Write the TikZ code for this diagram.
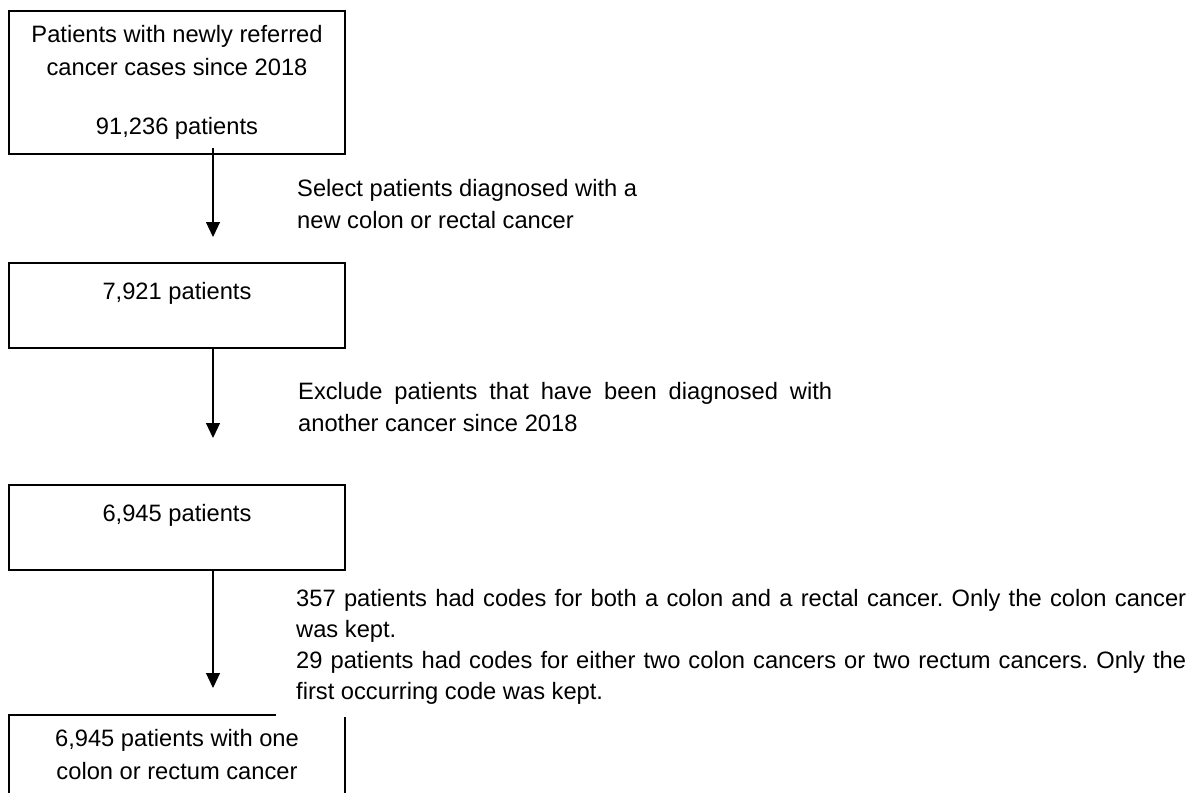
\documentclass[tikz,border=0pt]{standalone}
\usepackage{fontspec}
\setmainfont{Liberation Sans}
\usepackage{tikz}
\usetikzlibrary{arrows.meta}
\frenchspacing
\tikzset{box/.style = {rectangle, draw=black, line width=2pt, minimum width=336pt, align=center, font=\fontsize{23.7}{33}\selectfont},
         count/.style = {box, minimum height=85pt, text height=18pt, text depth=31pt},
         note/.style = {anchor=base west, inner sep=0pt, font=\fontsize{23.7}{32}\selectfont},
         flow/.style = {line width=1.2pt, -{Triangle[length=15pt, width=14pt]}}}

\begin{document}
\begin{tikzpicture}[x=1pt, y=-1pt]
            \useasboundingbox (0,0) rectangle (1198,792);
            \clip (0,0) rectangle (1198,792);

            \node [box, minimum height=143pt] (referred) at (177, 82.5) {Patients with newly referred\\cancer cases since 2018\\[26pt]91,236 patients};
            \node [count] (colorectal) at (177, 305.5) {7,921 patients};
            \node [count] (single) at (177, 527.5) {6,945 patients};
            \node [box, minimum height=79pt] (final) at (177, 754.5) {6,945 patients with one\\colon or rectum cancer};

            \coordinate (tip1) at (213, 237);
            \coordinate (tip2) at (213, 438);
            \coordinate (tip3) at (213, 688);

            \draw [flow, shorten <=-7pt] (referred.south -| tip1) -- (tip1);
            \draw [flow] (colorectal.south -| tip2) -- (tip2);
            \draw [flow] (single.south -| tip3) -- (tip3);

            \node [note, align=left] (select) at (297, 228) {Select patients diagnosed with a\\new colon or rectal cancer};
            \node [note, text width=534pt, align=justify] (exclude) at (298, 399) {Exclude patients that have been diagnosed with\linebreak another cancer since 2018};
            \node [note, text width=890pt, align=justify, fill=white, inner xsep=20pt, inner ysep=13pt, font=\fontsize{23.7}{31}\selectfont] (codes) at (276, 606) {357 patients had codes for both a colon and a rectal cancer. Only the colon cancer\linebreak was kept.\\29 patients had codes for either two colon cancers or two rectum cancers. Only the\linebreak first occurring code was kept.};
        \end{tikzpicture}
\end{document}
